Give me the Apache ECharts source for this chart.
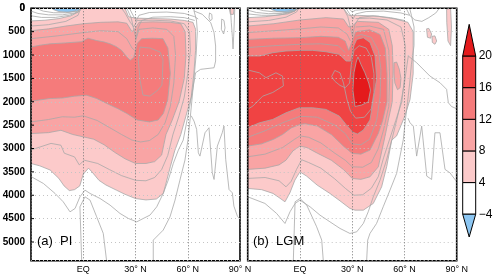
<!DOCTYPE html>
<html><head><meta charset="utf-8">
<script src="https://cdn.jsdelivr.net/npm/echarts@6/dist/echarts.min.js"></script>
<style>html,body{margin:0;padding:0;background:#fff}#c{width:500px;height:279px}</style>
</head><body><div id="c"></div>
<script>
// ---------- axes ----------
const latTicks = [-30, 0, 30, 60, 90];
const depthTicks = [0,500,1000,1500,2000,2500,3000,3500,4000,4500,5000];
const panelNames = ['(a)  PI', '(b)  LGM'];
// ---------- colour bar ----------
const cbLevels = [-4, 4, 8, 12, 16, 20];
const cbLabels = ['\u22124', '4', '8', '12', '16', '20'];

// ---------- PI contour regions [lat, depth] ----------
const PI_neg = [[-18,0],[-1,0],[-3,60],[-8,85],[-14,70],[-17,30]];
const PI_4 = [[-30,270],[-22,255],[-14,220],[-7,160],[-2,60],[-1,0],[24,0],[26,180],[30,210],[40,220],[50,230],[58,260],[63,300],[64.5,450],[64.5,900],[63.5,1400],[62,1900],[59,2300],[56,2700],[52.5,3050],[50,3390],[46,3960],[42,4080],[36,4100],[30,4070],[24,3980],[19,3890],[13,3780],[9,3680],[5,3500],[3,3420],[0,3550],[-2,3800],[-5,3880],[-8,3900],[-11,3800],[-14,3640],[-19,3460],[-25,3370],[-30,3320]];
const PI_4b = [[83.8,0],[86.6,0],[86.2,130],[84.5,130]];
const PI_8 = [[-30,480],[-20,440],[-10,380],[0,330],[10,300],[20,290],[25,320],[28,500],[30,420],[32,300],[40,290],[50,300],[56,330],[58.5,500],[59,1000],[58,1500],[55,2000],[51,2400],[47.5,2700],[45,3140],[41,3280],[36,3320],[30,3320],[24,3220],[18,3080],[12,2920],[6,2800],[0,2750],[-6,2700],[-12.8,2610],[-20,2660],[-30,2680]];
const PI_12 = [[-30,830],[-25,790],[-19,760],[-10,740],[-1,715],[2.7,640],[7.7,690],[12,720],[15.4,760],[19,820],[22,900],[25,1040],[27,1110],[29,1050],[31,750],[33.5,650],[40,640],[45.8,650],[48.6,850],[50,1390],[48.5,1960],[46,2250],[43,2390],[38,2430],[31,2390],[25,2250],[20,2150],[15.4,2070],[7.7,1930],[2,1860],[-5,1880],[-12,1920],[-19,1930],[-25,1960],[-30,1990]];
// PI contour lines
const PI_l14 = [[32.6,830],[31.6,1107],[32.6,1535],[34.3,1856],[38.3,1878],[42.9,1749],[45.2,1642],[45.8,1107],[44.1,936],[38.3,850],[32.6,830]];
const PI_l10 = [[-30,2430],[-20,2380],[-12,2320],[-5,2330],[0,2300],[8,2400],[15,2550],[22,2700],[28,2820],[33,2860],[38,2830],[43,2700],[47,2450],[50,2100],[52,1600],[53,1000],[52,600],[48,450],[40,420],[32,450],[30,700]];
const PI_l10t = [[-30,650],[-15,590],[0,520],[10,480],[20,500],[25,650],[28,850],[29.5,900]];
const PI_l6 = [[-30,3030],[-18.5,2890],[-12.8,2930],[-10.9,3100],[-5,3180],[-2.3,3350],[0.6,3250],[8.3,3320],[15,3450],[22,3580],[30,3680],[36,3690],[41,3620],[45,3450],[48.5,3150],[51.5,2700],[55,2300],[58,1900],[60,1400],[61.5,900],[61,500],[58,330],[50,270],[40,255],[31,260],[29,400],[27,300],[24,100],[22,0]];
const PI_l6t = [[-30,380],[-20,350],[-10,280],[-3,150],[-1.5,0]];
const PI_l2 = [[-30,3600],[-22.9,3747],[-16.2,3961],[-11.5,4140],[-7.6,4355],[-4.7,4282],[-1.9,4033],[1,3890],[3.9,3961],[9.6,4068],[15.4,4211],[21.1,4389],[25.9,4496],[30.7,4569],[34.5,4496],[38.3,4425],[42.2,4247],[45.9,3961],[48.8,3676],[51.7,3319],[54.6,3034],[57.4,2820],[59.6,2391],[61.8,1963],[63.5,1600],[64.5,1379]];
const PI_l0a = [[-0.9,5400],[-1.9,4247],[1,4033],[3.9,4104],[7.7,4461],[11.5,4817],[13.4,5400]];
const PI_l0b = [[40.2,5400],[40.2,4960],[45.9,4746],[49.8,4461],[52.7,4104],[55.5,3676],[58.4,3247],[60.1,2820],[61.3,2391],[62.4,1963],[63.6,1500],[64.8,1000],[65.5,500],[65,250],[63.6,58]];
const PI_n1 = [[63.6,0],[63.6,58],[68.3,128],[73.2,308],[75.1,522],[76,807],[76,1128],[75.1,1272],[67.4,1306],[64.5,1379]];
const PI_spike = [[62,2300],[63.6,2413],[65.1,2591],[66.1,3092],[67,3162],[69.9,2663],[72.2,2556],[74.1,3520],[75.1,3662],[77,2948],[79.8,2663],[80.8,2520],[81.8,3233],[83.7,3876],[85.6,3948],[86.5,4233],[88.5,4447],[90,4518]];
const PI_arcA = [[-30,60],[-26,110],[-20,140],[-12,140],[-5,100],[-2.5,40],[-2,0]];
const PI_arcB = [[-27,0],[-23,60],[-17,95],[-10,95],[-5,60],[-3,0]];
const PI_arcC = [[-30,160],[-24,195],[-16,195],[-8,150],[-3,80],[-1.5,0]];
const PI_v1 = [[25,0],[27.5,200],[29,450],[30.2,640],[31.5,420],[33.5,260],[40,190],[50,180],[58,200],[64,260]];
const PI_v2 = [[26.5,0],[29,180],[30.5,260],[32,150],[38,90],[48,80],[58,110],[64,180],[66,230]];
const PI_o1 = [[72.5,100],[73.8,130],[74,230],[73,270],[72.2,200],[72.5,100]];
const PI_o2 = [[79.5,230],[80.8,260],[81.4,420],[80.6,550],[79.3,450],[79.5,230]];
const PI_s2 = [[84.5,0],[85,300],[85.6,600],[86,870],[86.5,500],[87,0]];

// ---------- LGM contour regions ----------
const LGM_neg = [[-17,0],[-1,0],[-3,60],[-8,90],[-13,70],[-16,30]];
const LGM_4 = [[-30,200],[-20,180],[-10,130],[-3,60],[-1,0],[25,0],[28,150],[33,150],[45,170],[55,230],[62,300],[65,500],[65,1400],[63.2,1950],[60.3,2300],[55.5,2730],[52.7,2820],[49.8,3390],[46.9,3820],[42.1,4175],[36.4,4318],[31.6,4318],[28.7,4282],[23,4120],[17.2,3961],[9.9,3783],[3.8,3590],[0,3498],[-2.9,3676],[-5.8,3950],[-8.6,4140],[-12,4050],[-15.5,3960],[-22,3880],[-30,3854]];
const LGM_4b = [[72.7,440],[74,430],[75.6,550],[75,640],[73.2,620]];
const LGM_4c = [[75.8,600],[77.5,590],[78.5,700],[77.5,770],[76,730]];
const LGM_4d = [[84.2,20],[86.5,0],[87,400],[86.5,800],[85,700],[84.3,300]];
const LGM_8 = [[-30,380],[-15,330],[0,250],[15,200],[25,230],[28,400],[30,380],[33,280],[45,300],[51,450],[53,800],[53.5,1300],[53,2000],[50.7,2400],[48.8,2748],[45,3391],[40.2,3605],[35,3660],[30,3640],[25,3450],[18,3250],[10,3100],[4,2980],[0,2948],[-4,3050],[-8,3250],[-12,3350],[-20,3420],[-30,3447]];
const LGM_8b = [[54,1165],[55.5,1150],[57,1300],[58,1500],[57.5,1700],[56,1740],[54.5,1600],[54,1400]];
const LGM_12 = [[-30,665],[-15,640],[0,629],[12,600],[22,620],[26,700],[28,900],[30,700],[32,500],[40,460],[46,560],[49,850],[50,1400],[50,2000],[47.5,2400],[45,2676],[40.2,3034],[35,3120],[30,3105],[25,2950],[18,2700],[10,2520],[3,2470],[0,2484],[-5,2560],[-10,2700],[-15,2800],[-22,2900],[-30,2948]];
const LGM_16 = [[-30,1020],[-23,1020],[-15.6,950],[-8,914],[0,900],[7.3,900],[14.9,930],[22.6,985],[26.4,1128],[29,1130],[31,800],[32.6,665],[36.4,630],[40.2,730],[43.1,1021],[44,1500],[42.1,1963],[40.2,2391],[36.4,2605],[33,2690],[30.3,2650],[26.4,2484],[22.6,2306],[14.9,2163],[7.3,2128],[-0.4,2128],[-8,2235],[-15.6,2377],[-23.3,2450],[-30,2556]];
const LGM_20 = [[33.3,1040],[35,1200],[37.3,1380],[39.5,1600],[40.5,1750],[39.2,2000],[35.4,2070],[31.6,2100],[30.4,1750],[31,1380],[32.3,1150]];
// LGM contour lines
const LGM_l18a = [[-30,1320],[-23.3,1380],[-19.5,1485],[-13.8,1380],[-10,1450],[-9.5,1660],[-15.6,1800],[-21.4,1880],[-27,2090],[-30,2160]];
const LGM_l18b = [[31,900],[34,800],[38,850],[41,1050],[42.5,1400],[42.5,1800],[41,2150],[37,2330],[32,2350],[29,2200],[27,1950],[25,1600],[23,1380],[20,1330],[18.2,1460],[20,1560],[23,1650],[26,1700],[28.5,1600],[29.5,1200],[31,900]];
const LGM_l14 = [[-30,2760],[-20,2620],[-10,2450],[0,2310],[10,2330],[20,2500],[26,2680],[30,2900],[35,2920],[40,2800],[44,2400],[46,1900],[46.5,1300],[45,900],[41,620],[35,560],[32,600]];
const LGM_l14t = [[-30,840],[-15,800],[0,770],[12,760],[22,800],[26,950]];
const LGM_l10 = [[-30,3177],[-20,3120],[-10,2980],[-3,2800],[0,2730],[5,2760],[12,2880],[20,3100],[26,3250],[30,3390],[36,3400],[41,3300],[45,3000],[48,2600],[51,2100],[51.5,1500],[51,900],[48,450],[40,380],[32,400]];
const LGM_l10t = [[-30,520],[-15,480],[0,440],[12,400],[22,420],[27,550],[29,700]];
const LGM_l6 = [[-30,3640],[-20,3620],[-12,3690],[-8,3820],[-5,3700],[-2,3450],[1,3240],[5,3300],[12,3420],[20,3650],[26,3850],[31,4000],[36,3990],[41,3850],[45,3600],[48,3200],[51.5,2800],[55,2400],[58.5,2000],[60,1500],[60.5,800],[58,400],[50,250],[40,210],[32,220]];
const LGM_l6t = [[-30,290],[-18,260],[-8,190],[-2,80],[-0.5,0]];
const LGM_l2 = [[-30,4033],[-20.1,4175],[-13.4,4389],[-8.6,4603],[-5.7,4353],[-2.8,4175],[0,4104],[5.8,4247],[11.5,4425],[17.2,4568],[23,4710],[28.7,4817],[32.6,4782],[36.4,4603],[39.2,4354],[42.1,4033],[46,3676],[49.7,3247],[52.7,2820],[55.5,2400],[58,2000],[60,1600],[61.5,1200],[62.2,1021]];
const LGM_l0a = [[-3.8,5400],[-2.8,4140],[0,4068],[3.9,4211],[9.6,4675],[12.5,4960],[13.4,5400]];
const LGM_l0b = [[38.3,5400],[38.9,4960],[40.2,4817],[44,4603],[47.8,4247],[51.7,3890],[55.5,3533],[57.4,3177],[59.3,2820],[60.5,2400],[61.8,2000],[63,1600],[64,1200],[65.5,800],[65.5,400],[64,150],[63,0]];
const LGM_n1 = [[62.2,1021],[67,1164],[74.6,1449],[80.4,1592],[84.2,1734],[85.2,2020],[87,2100],[90,2150]];
const LGM_spike = [[62,2350],[63.2,2449],[65.1,2520],[67,3162],[69.9,2520],[72.8,3590],[75.6,3662],[77.5,2663],[80.4,2663],[83.3,3447],[86.1,3519],[89,3662],[90,3700]];
const LGM_top1 = [[61,0],[63,150],[66,250],[70,280],[74,200],[78,100],[80,0]];
const LGM_arcA = [[-30,40],[-25,90],[-18,115],[-10,110],[-5,80],[-2.5,30],[-2,0]];
const LGM_arcB = [[-30,120],[-22,150],[-14,150],[-7,120],[-3,60],[-1.5,0]];
const LGM_arcC = [[-26,0],[-21,50],[-15,75],[-9,70],[-4,40],[-3,0]];
const LGM_v1 = [[25,0],[27.5,180],[29,420],[30.2,600],[31.5,350],[34,200],[42,160],[52,200],[60,260]];
const LGM_v2 = [[26.5,0],[29,150],[30.5,230],[32,120],[38,70],[48,60],[58,100],[63,150]];
const LGM_v3 = [[28,0],[30,80],[32,40],[40,20],[50,20],[58,40]];

// ---------- styles ----------
const C4='#fccaca', C8='#f9a4a4', C12='#f57b7b', C16='#f04343', C20='#e41a1c', CNEG='#8cc6f2';
const LINE='#a8a8a8';
const FONT='Liberation Sans, Arial, sans-serif';

function shape(g, pts, fill){
  return {type:'custom', coordinateSystem:'cartesian2d', xAxisIndex:g, yAxisIndex:g,
    data:pts, clip:true, silent:true, animation:false, z:2,
    renderItem:function(params, api){
      if(params.dataIndexInside!==0) return;
      const n=params.dataInsideLength, p=[];
      for(let i=0;i<n;i++) p.push(api.coord([api.value(0,i), api.value(1,i)]));
      return fill ? {type:'polygon', shape:{points:p}, style:{fill:fill, stroke:LINE, lineWidth:0.8}}
                  : {type:'polyline', shape:{points:p}, style:{fill:null, stroke:LINE, lineWidth:0.8}};
    }};
}

const series = [];
[[PI_4,C4],[PI_4b,C4],[PI_8,C8],[PI_12,C12],[PI_neg,CNEG]].forEach(a=>series.push(shape(0,a[0],a[1])));
[PI_l14,PI_l10,PI_l10t,PI_l6,PI_l6t,PI_l2,PI_l0a,PI_l0b,PI_n1,PI_spike,PI_arcA,PI_arcB,PI_arcC,PI_v1,PI_v2,PI_o1,PI_o2,PI_s2].forEach(l=>series.push(shape(0,l,null)));
[[LGM_4,C4],[LGM_4b,C4],[LGM_4c,C4],[LGM_4d,C4],[LGM_8,C8],[LGM_8b,C8],[LGM_12,C12],[LGM_16,C16],[LGM_20,C20],[LGM_neg,CNEG]].forEach(a=>series.push(shape(1,a[0],a[1])));
[LGM_l18a,LGM_l18b,LGM_l14,LGM_l14t,LGM_l10,LGM_l10t,LGM_l6,LGM_l6t,LGM_l2,LGM_l0a,LGM_l0b,LGM_n1,LGM_spike,LGM_top1,LGM_arcA,LGM_arcB,LGM_arcC,LGM_v1,LGM_v2,LGM_v3].forEach(l=>series.push(shape(1,l,null)));

// colour bar
const cbFills = ['#ffffff', C4, C8, C12, C16];
series.push({type:'custom', coordinateSystem:'cartesian2d', xAxisIndex:2, yAxisIndex:2, silent:true, animation:false,
  data: cbLevels.map((v,i)=>[0,i]), z:5,
  renderItem:function(params, api){
    const i=api.value(1), n=cbLevels.length;
    const xl=api.coord([0,i])[0], xr=api.coord([1,i])[0], y0=api.coord([0,i])[1];
    const ch=[];
    if(i<n-1){ const y1=api.coord([0,i+1])[1];
      ch.push({type:'rect', shape:{x:xl,y:y1,width:xr-xl,height:y0-y1}, style:{fill:cbFills[i], stroke:'#000', lineWidth:1}}); }
    if(i===0){ const yt=api.coord([0,-0.72])[1];
      ch.push({type:'polygon', shape:{points:[[xl,y0],[xr,y0],[(xl+xr)/2,yt]]}, style:{fill:CNEG, stroke:'#000', lineWidth:1}}); }
    if(i===n-1){ const yt=api.coord([0,6.0])[1];
      ch.push({type:'polygon', shape:{points:[[xl,y0],[xr,y0],[(xl+xr)/2,yt]]}, style:{fill:C20, stroke:'#000', lineWidth:1}}); }
    ch.push({type:'text', style:{text:cbLabels[i], x:xr+3, y:y0, verticalAlign:'middle', align:'left', fontSize:12, fontFamily:FONT, fill:'#000'}, z2:10});
    return {type:'group', children:ch};
  }});

// depth tick labels: custom series on the left edge of panel (a)
series.push({type:'custom', coordinateSystem:'cartesian2d', xAxisIndex:0, yAxisIndex:0, silent:true, animation:false,
  data: depthTicks.map(d=>[-30,d]), z:12, clip:false,
  renderItem:function(params, api){
    const p=api.coord([api.value(0), api.value(1)]);
    return {type:'group', children:[
      {type:'text', style:{text:String(api.value(1)), x:p[0]-6, y:p[1], align:'right', verticalAlign:'middle', fontSize:10, fontWeight:'bold', fontFamily:FONT, fill:'#000'}},
      {type:'line', shape:{x1:p[0], y1:p[1], x2:p[0]+3, y2:p[1]}, style:{stroke:'#000', lineWidth:1}}
    ]};
  }});

function xAx(g){ return {gridIndex:g, type:'value', min:-30, max:90, interval:30, z:10,
  axisLine:{show:false, onZero:false}, axisTick:{show:false},
  axisLabel:{fontSize:9, fontFamily:FONT, color:'#000', margin:4,
    formatter:v=> v===0?'EQ':(v>0?v+'\u00b0 N':'')},
  splitLine:{show:true, lineStyle:{color:'#777', width:1, type:[1,2]}}}; }
function yAx(g){ return {gridIndex:g, type:'value', inverse:true, min:0, max:5400, interval:500, z:10,
  axisLine:{show:false, onZero:false}, axisTick:{show:false}, axisLabel:{show:false},
  splitLine:{show:true, lineStyle:{color:'#c4c4c4', width:1, type:[1,3]}}}; }

const option = {
  animation:false, backgroundColor:'#fff',
  grid:[
    {left:31, top:8.3, width:209, height:252.4, show:true, borderColor:'#000', borderWidth:1.6, backgroundColor:'transparent', z:10},
    {left:247.7, top:8.3, width:209, height:252.4, show:true, borderColor:'#000', borderWidth:1.6, backgroundColor:'transparent', z:10},
    {left:462.7, top:22.76, width:13, height:215.2, show:false}
  ],
  xAxis:[xAx(0), xAx(1), {gridIndex:2, type:'value', min:0, max:1, show:false}],
  yAxis:[yAx(0), yAx(1), {gridIndex:2, type:'value', min:-0.75, max:6.05, show:false}],
  series: series,
  graphic:[
    {type:'text', x:25, y:8.3, z:30, style:{text:String(depthTicks[0]), align:'right', verticalAlign:'middle', fontSize:10, fontWeight:'bold', fontFamily:FONT, fill:'#000'}},
    {type:'text', left:37, top:235, z:20, style:{text:panelNames[0], fontSize:13, fontFamily:FONT, fill:'#000'}},
    {type:'text', left:253, top:235, z:20, style:{text:panelNames[1], fontSize:13, fontFamily:FONT, fill:'#000'}}
  ]
};
const chart = echarts.init(document.getElementById('c'));
chart.setOption(option);
</script></body></html>
